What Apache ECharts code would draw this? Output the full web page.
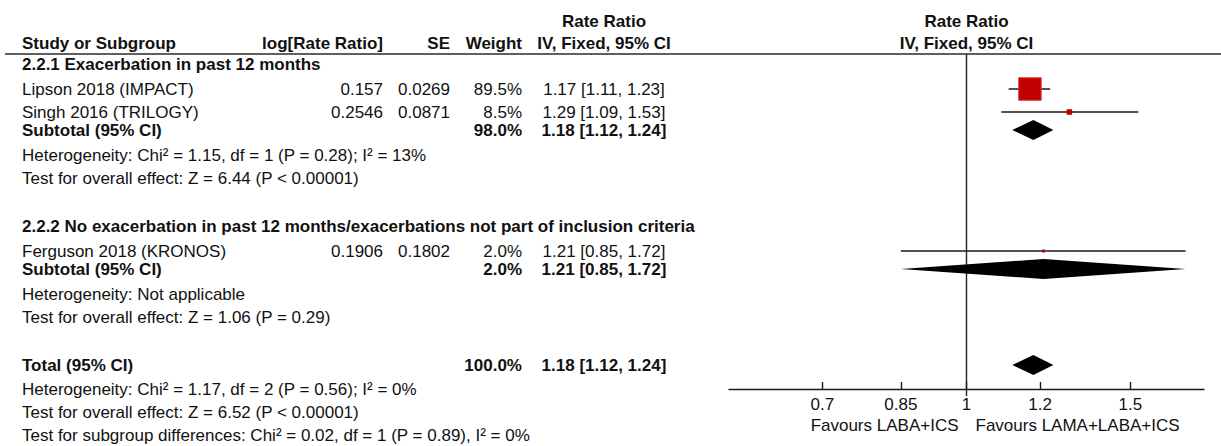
<!DOCTYPE html>
<html>
<head>
<meta charset="utf-8">
<title>Rate Ratio forest plot</title>
<script src="https://cdn.jsdelivr.net/npm/echarts@6.0.0/dist/echarts.min.js"></script>
<style>
  html, body { margin: 0; padding: 0; background: #ffffff; }
  #chart { width: 1221px; height: 446px; }
</style>
</head>
<body>
<div id="chart"></div>
<script>
// ---- Study data ----
const studyNames = ['Lipson 2018 (IMPACT)', 'Singh 2016 (TRILOGY)', 'Ferguson 2018 (KRONOS)'];
const studyLogRR = [0.157, 0.2546, 0.1906];
const studySE = [0.0269, 0.0871, 0.1802];
const studyWeight = [89.5, 8.5, 2.0];
const studyRR = [1.17, 1.29, 1.21];
const studyLow = [1.11, 1.09, 0.85];
const studyHigh = [1.23, 1.53, 1.72];

// ---- Subgroup data ----
const groupTitles = [
  '2.2.1 Exacerbation in past 12 months',
  '2.2.2 No exacerbation in past 12 months/exacerbations not part of inclusion criteria'
];
const groupWeight = [98.0, 2.0];
const groupRR = [1.18, 1.21];
const groupLow = [1.12, 0.85];
const groupHigh = [1.24, 1.72];
const groupHeterogeneity = [
  'Heterogeneity: Chi\u00b2 = 1.15, df = 1 (P = 0.28); I\u00b2 = 13%',
  'Heterogeneity: Not applicable'
];
const groupOverallEffect = [
  'Test for overall effect: Z = 6.44 (P < 0.00001)',
  'Test for overall effect: Z = 1.06 (P = 0.29)'
];

// ---- Pooled data ----
const totalWeight = [100.0];
const totalRR = [1.18];
const totalLow = [1.12];
const totalHigh = [1.24];
const totalNotes = [
  'Heterogeneity: Chi\u00b2 = 1.17, df = 2 (P = 0.56); I\u00b2 = 0%',
  'Test for overall effect: Z = 6.52 (P < 0.00001)',
  'Test for subgroup differences: Chi\u00b2 = 0.02, df = 1 (P = 0.89), I\u00b2 = 0%'
];

// ---- Axis ----
const axisTicks = [0.7, 0.85, 1, 1.2, 1.5];
const axisLimit = [1 / 1.8, 1.8];
const favourLabels = ['Favours LABA+ICS', 'Favours LAMA+LABA+ICS'];

// ---- Layout (row centres and column anchors, in px) ----
const ROW = {
  title: 21, header: 43, rule: 54,
  groupHead: [64, 226],
  study: [89, 112, 251],
  subtotal: [130, 269],
  het: [155, 294],
  test: [178, 317],
  total: 365, totalNotes: [389, 412, 435],
  axis: 389, favours: 425, refLineEnd: 396
};
const COL = { name: 22, logrr: 383, se: 450, weight: 522, ci: 604 };
const GRID = { left: 729, right: 17 };

const FONT = '"Liberation Sans", Arial, Helvetica, sans-serif';
const INK = '#111111';
const SIZE_REGULAR = 17;
const SIZE_BOLD = 17;
const SQUARE_MAX = 22.5;
const SQUARE_MIN = 3;
const DIAMOND_HALF = 10;

const fmtRR = (e, l, h) => e.toFixed(2) + ' [' + l.toFixed(2) + ', ' + h.toFixed(2) + ']';
const fmtW = w => w.toFixed(1) + '%';

function txt(str, x, y, align, bold) {
  return {
    type: 'text', silent: true,
    style: {
      text: str, x: x, y: y,
      font: bold ? 'bold ' + SIZE_BOLD + 'px ' + FONT : SIZE_REGULAR + 'px ' + FONT,
      fill: INK, textAlign: align || 'left', textVerticalAlign: 'middle'
    }
  };
}

// ---- Forest marks built from the data ----
const maxWeight = Math.max.apply(null, studyWeight);
const markData = [];
studyRR.forEach((rr, i) => {
  markData.push([Math.log(rr), Math.log(studyLow[i]), Math.log(studyHigh[i]), ROW.study[i], studyWeight[i], 0]);
});
groupRR.forEach((rr, i) => {
  markData.push([Math.log(rr), Math.log(groupLow[i]), Math.log(groupHigh[i]), ROW.subtotal[i], groupWeight[i], 1]);
});
markData.push([Math.log(totalRR[0]), Math.log(totalLow[0]), Math.log(totalHigh[0]), ROW.total, totalWeight[0], 1]);

function renderMark(params, api) {
  const y = api.value(3);
  const pE = api.coord([api.value(0), y]);
  const pL = api.coord([api.value(1), y]);
  const pH = api.coord([api.value(2), y]);
  if (api.value(5) === 1) {
    return {
      type: 'polygon',
      shape: { points: [[pL[0], pE[1]], [pE[0], pE[1] - DIAMOND_HALF], [pH[0], pE[1]], [pE[0], pE[1] + DIAMOND_HALF]] },
      style: { fill: '#000000', stroke: null }
    };
  }
  const side = Math.max(SQUARE_MIN, SQUARE_MAX * Math.pow(api.value(4) / maxWeight, 0.6));
  return {
    type: 'group',
    children: [
      { type: 'line', shape: { x1: pL[0], y1: pE[1], x2: pH[0], y2: pE[1] },
        style: { stroke: '#1a1a1a', lineWidth: 1.4 } },
      { type: 'rect', shape: { x: pE[0] - side / 2, y: pE[1] - side / 2, width: side, height: side },
        style: { fill: '#c00000', stroke: side > 8 ? '#de3a3a' : null, lineWidth: 1 } }
    ]
  };
}

const chart = echarts.init(document.getElementById('chart'), null, { renderer: 'svg' });

chart.setOption({
  animation: false,
  backgroundColor: '#ffffff',
  grid: {
    left: GRID.left, right: GRID.right, top: ROW.rule, bottom: 446 - ROW.axis,
    containLabel: false, outerBoundsMode: 'none'
  },
  xAxis: {
    type: 'value',
    min: Math.log(axisLimit[0]), max: Math.log(axisLimit[1]),
    axisLine: { onZero: false, lineStyle: { color: '#1a1a1a', width: 1.4 } },
    axisTick: { customValues: axisTicks.map(Math.log), inside: true, length: 7,
      lineStyle: { color: '#1a1a1a', width: 1.4 } },
    axisLabel: {
      customValues: axisTicks.map(Math.log),
      formatter: v => String(+Math.exp(v).toPrecision(3)),
      color: INK, fontSize: SIZE_REGULAR, fontFamily: FONT, margin: 7
    },
    splitLine: { show: false }
  },
  yAxis: {
    type: 'value', inverse: true, min: ROW.rule, max: ROW.axis, show: false
  },
  series: [
    {
      type: 'line', silent: true, clip: false, symbol: 'none',
      data: [[0, ROW.rule], [0, ROW.refLineEnd]],
      lineStyle: { color: '#222222', width: 1.4 }, z: 1
    },
    {
      type: 'custom', silent: true, clip: false,
      renderItem: renderMark, data: markData, z: 3
    }
  ]
});

// ---- Table text and headings ----
const centre = chart.convertToPixel({ xAxisIndex: 0 }, 0);
const forestMid = (chart.convertToPixel({ xAxisIndex: 0 }, Math.log(axisLimit[0])) +
                   chart.convertToPixel({ xAxisIndex: 0 }, Math.log(axisLimit[1]))) / 2;

const g = [];
g.push(txt('Rate Ratio', COL.ci, ROW.title, 'center', true));
g.push(txt('Rate Ratio', forestMid, ROW.title, 'center', true));
g.push(txt('Study or Subgroup', COL.name, ROW.header, 'left', true));
g.push(txt('log[Rate Ratio]', COL.logrr, ROW.header, 'right', true));
g.push(txt('SE', COL.se, ROW.header, 'right', true));
g.push(txt('Weight', COL.weight, ROW.header, 'right', true));
g.push(txt('IV, Fixed, 95% CI', COL.ci, ROW.header, 'center', true));
g.push(txt('IV, Fixed, 95% CI', forestMid, ROW.header, 'center', true));
g.push({ type: 'line', silent: true,
  shape: { x1: 5, y1: ROW.rule, x2: 1221, y2: ROW.rule },
  style: { stroke: '#2a2a2a', lineWidth: 1.6 } });

const groupStudies = [[0, 1], [2]];
groupTitles.forEach((title, gi) => {
  g.push(txt(title, COL.name, ROW.groupHead[gi], 'left', true));
  groupStudies[gi].forEach(i => {
    const y = ROW.study[i];
    g.push(txt(studyNames[i], COL.name, y, 'left', false));
    g.push(txt(String(studyLogRR[i]), COL.logrr, y, 'right', false));
    g.push(txt(String(studySE[i]), COL.se, y, 'right', false));
    g.push(txt(fmtW(studyWeight[i]), COL.weight, y, 'right', false));
    g.push(txt(fmtRR(studyRR[i], studyLow[i], studyHigh[i]), COL.ci, y, 'center', false));
  });
  g.push(txt('Subtotal (95% CI)', COL.name, ROW.subtotal[gi], 'left', true));
  g.push(txt(fmtW(groupWeight[gi]), COL.weight, ROW.subtotal[gi], 'right', true));
  g.push(txt(fmtRR(groupRR[gi], groupLow[gi], groupHigh[gi]), COL.ci, ROW.subtotal[gi], 'center', true));
  g.push(txt(groupHeterogeneity[gi], COL.name, ROW.het[gi], 'left', false));
  g.push(txt(groupOverallEffect[gi], COL.name, ROW.test[gi], 'left', false));
});

g.push(txt('Total (95% CI)', COL.name, ROW.total, 'left', true));
g.push(txt(fmtW(totalWeight[0]), COL.weight, ROW.total, 'right', true));
g.push(txt(fmtRR(totalRR[0], totalLow[0], totalHigh[0]), COL.ci, ROW.total, 'center', true));
totalNotes.forEach((note, i) => g.push(txt(note, COL.name, ROW.totalNotes[i], 'left', false)));

g.push(txt(favourLabels[0], centre - 8, ROW.favours, 'right', false));
g.push(txt(favourLabels[1], centre + 9, ROW.favours, 'left', false));

chart.setOption({ graphic: { elements: g } });
</script>
</body>
</html>
